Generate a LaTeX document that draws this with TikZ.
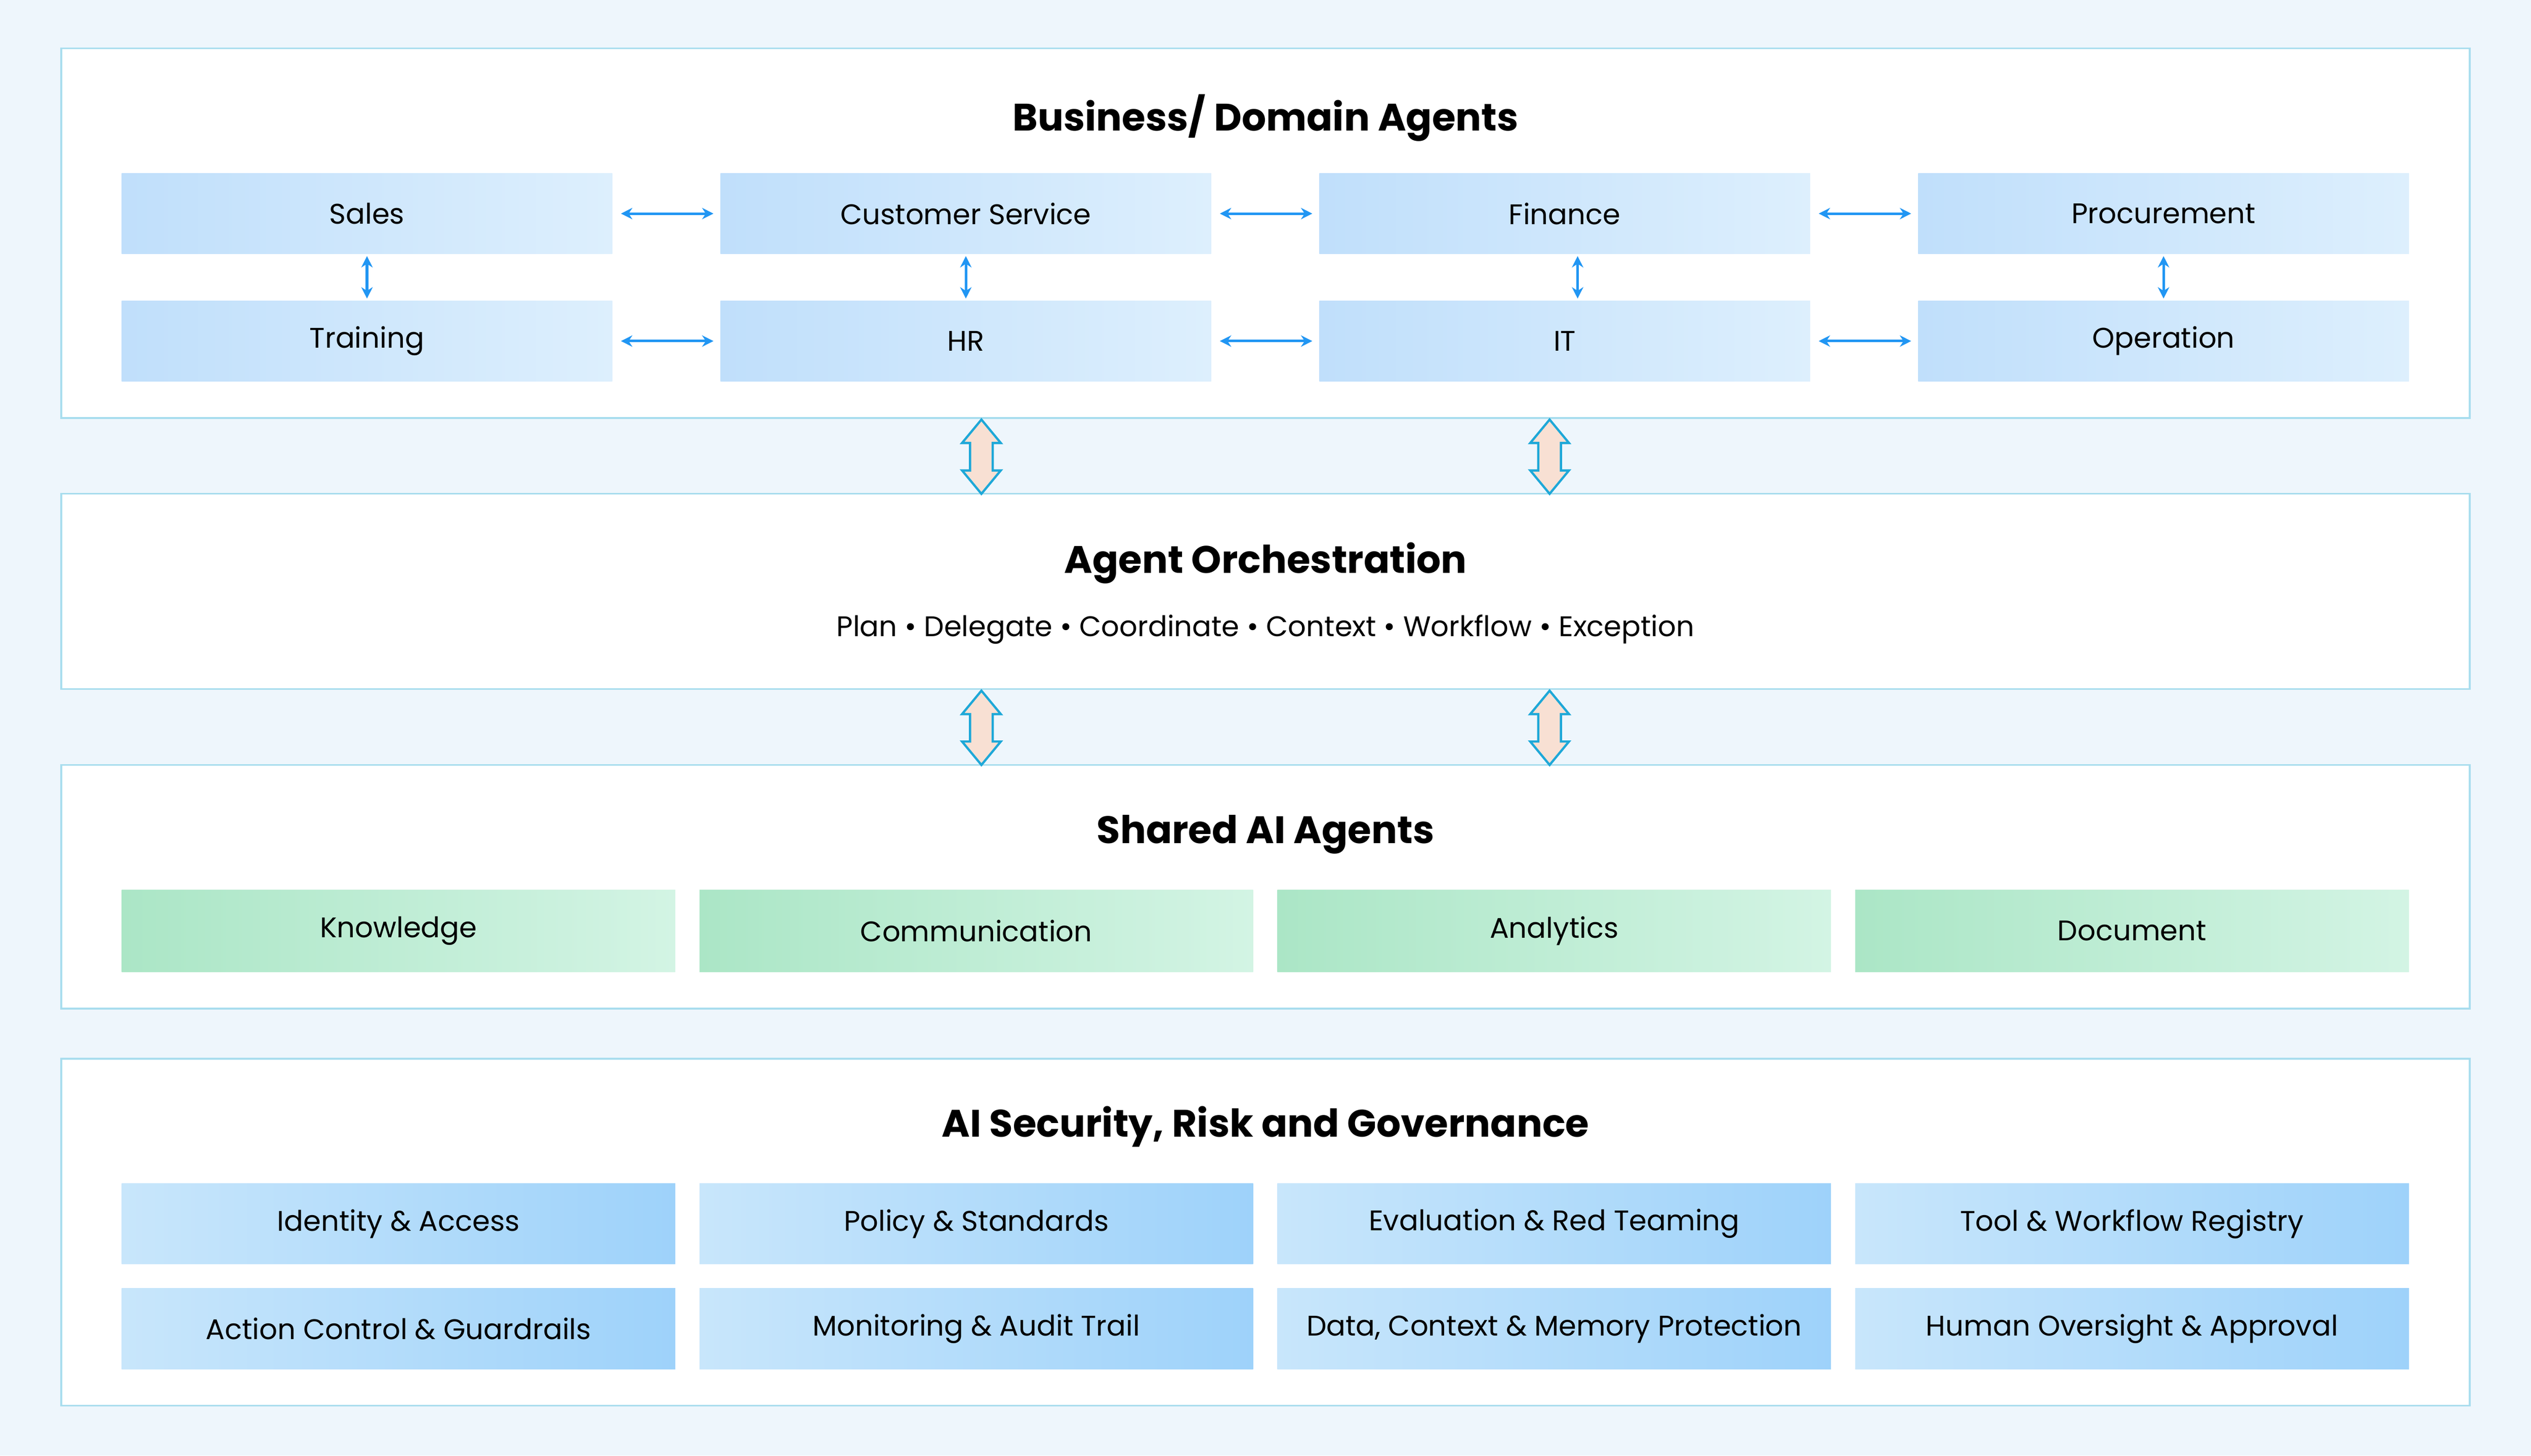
\documentclass[tikz,border=0pt]{standalone}
\usepackage{fontspec}
\setmainfont{Poppins}
\usetikzlibrary{arrows.meta}
\definecolor{bg}{HTML}{EEF6FC}
\definecolor{pborder}{HTML}{A8DDEE}
\definecolor{bA}{HTML}{C0DFFB}
\definecolor{bB}{HTML}{DDEFFD}
\definecolor{gA}{HTML}{ABE6C6}
\definecolor{gB}{HTML}{D3F4E4}
\definecolor{sA}{HTML}{C8E6FB}
\definecolor{sB}{HTML}{9ED2FA}
\definecolor{arr}{HTML}{2196F3}
\definecolor{peach}{HTML}{F8E0D3}
\definecolor{cyanline}{HTML}{1EA8D8}
\begin{document}
\begin{tikzpicture}[x=0.02cm,y=-0.02cm,
  panel/.style={draw=pborder,fill=white,line width=0.6pt},
  ttl/.style={font=\bfseries\fontsize{13.5}{16}\selectfont},
  txt/.style={font=\fontsize{10}{12}\selectfont},
  bbox/.style={left color=bA,right color=bB,anchor=north west,minimum height=50*0.02cm,inner sep=0pt,txt},
  gbox/.style={left color=gA,right color=gB,anchor=north west,minimum width=343*0.02cm,minimum height=51*0.02cm,inner sep=0pt,txt},
  sbox/.style={left color=sA,right color=sB,anchor=north west,minimum width=343*0.02cm,minimum height=50*0.02cm,inner sep=0pt,txt},
  link/.style={arr,line width=0.9pt,{Stealth[length=4pt,width=4pt]}-{Stealth[length=4pt,width=4pt]}}]
\fill[bg] (0,0) rectangle (1568,902);
\useasboundingbox (0,0) rectangle (1568,902);
% panels
\draw[panel] (38,30) rectangle (1530,259);
\draw[panel] (38,306) rectangle (1530,427);
\draw[panel] (38,474) rectangle (1530,625);
\draw[panel] (38,656) rectangle (1530,871);
\node[ttl] (t1) at (784,73) {Business/ Domain Agents};
\node[ttl] (t2) at (784,349) {Agent Orchestration};
\node[txt] (t2s) at (784,390) {Plan • Delegate • Coordinate • Context • Workflow • Exception};
\node[ttl] (t3) at (784,517) {Shared AI Agents};
\node[ttl] (t4) at (784,698) {AI Security, Risk and Governance};
% business boxes
\foreach \n/\x/\y/\t in {sa/75/107/Sales,cs/446/107/Customer Service,fi/817/107/Finance,pr/1188/107/Procurement,
  tr/75/186/Training,hr/446/186/HR,it/817/186/IT,op/1188/186/Operation}{
  \node[bbox,minimum width=304*0.02cm] (\n) at (\x,\y) {\t};
}
\draw[link] ([xshift=5*0.02cm]sa.east) -- ([xshift=-4*0.02cm]cs.west);
\draw[link] ([xshift=5*0.02cm]cs.east) -- ([xshift=-4*0.02cm]fi.west);
\draw[link] ([xshift=5*0.02cm]fi.east) -- ([xshift=-4*0.02cm]pr.west);
\draw[link] ([xshift=5*0.02cm]tr.east) -- ([xshift=-4*0.02cm]hr.west);
\draw[link] ([xshift=5*0.02cm]hr.east) -- ([xshift=-4*0.02cm]it.west);
\draw[link] ([xshift=5*0.02cm]it.east) -- ([xshift=-4*0.02cm]op.west);
\draw[link] ([yshift=-1*0.02cm]sa.south) -- ([yshift=1*0.02cm]tr.north);
\draw[link] ([yshift=-1*0.02cm]cs.south) -- ([yshift=1*0.02cm]hr.north);
\draw[link] ([xshift=8*0.02cm,yshift=-1*0.02cm]fi.south) -- ([xshift=8*0.02cm,yshift=1*0.02cm]it.north);
\draw[link] ([yshift=-1*0.02cm]pr.south) -- ([yshift=1*0.02cm]op.north);
% big double arrows
\foreach \cx/\cy in {608/283,960/283,608/451,960/451}{
  \draw[cyanline,fill=peach,line width=0.8pt,line join=miter]
    (\cx,\cy-23) -- (\cx+12,\cy-8.5) -- (\cx+7,\cy-8.5) -- (\cx+7,\cy+8.5) -- (\cx+12,\cy+8.5)
    -- (\cx,\cy+23) -- (\cx-12,\cy+8.5) -- (\cx-7,\cy+8.5) -- (\cx-7,\cy-8.5) -- (\cx-12,\cy-8.5) -- cycle;
}
% shared
\node[gbox] (kn) at (75,551) {Knowledge};
\node[gbox] (co) at (433,551) {Communication};
\node[gbox] (an) at (791,551) {Analytics};
\node[gbox] (do) at (1149,551) {Document};
% governance
\node[sbox] (g1) at (75,733) {Identity \& Access};
\node[sbox] (g2) at (433,733) {Policy \& Standards};
\node[sbox] (g3) at (791,733) {Evaluation \& Red Teaming};
\node[sbox] (g4) at (1149,733) {Tool \& Workflow Registry};
\node[sbox] (g5) at (75,798) {Action Control \& Guardrails};
\node[sbox] (g6) at (433,798) {Monitoring \& Audit Trail};
\node[sbox] (g7) at (791,798) {Data, Context \& Memory Protection};
\node[sbox] (g8) at (1149,798) {Human Oversight \& Approval};
\end{tikzpicture}
\end{document}
